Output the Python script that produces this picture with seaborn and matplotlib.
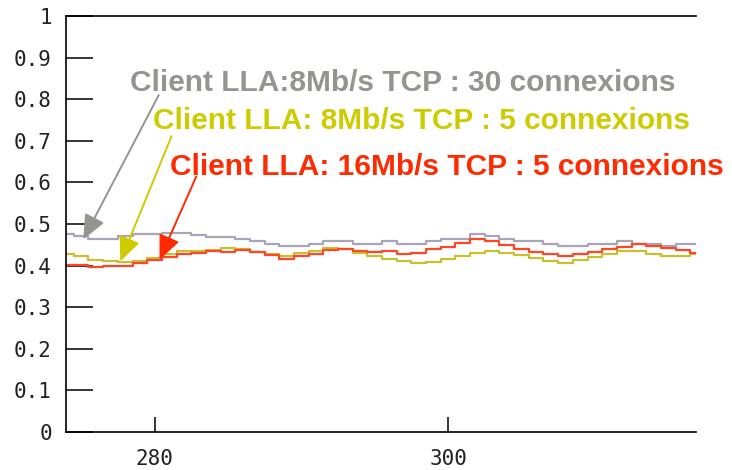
import matplotlib
matplotlib.use("Agg")
import matplotlib.pyplot as plt
import numpy as np
import pandas as pd
import seaborn as sns

# Time axis (seconds)
time_s = list(range(274, 318))

# Throughput ratio for each client configuration
gray_30conn = [0.475, 0.471, 0.465, 0.465, 0.471, 0.475, 0.475, 0.479, 0.479, 0.473,
               0.469, 0.469, 0.464, 0.459, 0.453, 0.448, 0.448, 0.453, 0.459, 0.459,
               0.453, 0.453, 0.459, 0.453, 0.453, 0.459, 0.464, 0.464, 0.475, 0.471,
               0.465, 0.459, 0.459, 0.453, 0.448, 0.448, 0.453, 0.453, 0.459, 0.453,
               0.453, 0.448, 0.453, 0.453]
yellow_8mb_5conn = [0.428, 0.423, 0.413, 0.410, 0.408, 0.410, 0.418, 0.428, 0.434, 0.436,
                    0.437, 0.442, 0.440, 0.433, 0.427, 0.424, 0.431, 0.436, 0.442, 0.439,
                    0.431, 0.424, 0.416, 0.410, 0.407, 0.409, 0.415, 0.424, 0.430, 0.436,
                    0.431, 0.426, 0.418, 0.410, 0.407, 0.414, 0.421, 0.428, 0.434, 0.434,
                    0.429, 0.423, 0.423, 0.428]
red_16mb_5conn = [0.402, 0.402, 0.396, 0.398, 0.400, 0.407, 0.413, 0.421, 0.428, 0.430,
                  0.434, 0.433, 0.437, 0.433, 0.425, 0.417, 0.422, 0.428, 0.437, 0.441,
                  0.435, 0.433, 0.436, 0.428, 0.431, 0.439, 0.445, 0.455, 0.464, 0.459,
                  0.450, 0.441, 0.433, 0.428, 0.422, 0.428, 0.433, 0.439, 0.445, 0.453,
                  0.448, 0.443, 0.437, 0.431]

series_names = ["Client LLA:8Mb/s TCP : 30 connexions",
                "Client LLA: 8Mb/s TCP : 5 connexions",
                "Client LLA: 16Mb/s TCP : 5 connexions"]
line_colors = ["#a9a5b8", "#c8c030", "#ff4626"]
text_colors = ["#959490", "#cccc00", "#ff2a00"]

y_ticks = [0, 0.1, 0.2, 0.3, 0.4, 0.5, 0.6, 0.7, 0.8, 0.9, 1]
y_tick_labels = ["0", "0.1", "0.2", "0.3", "0.4", "0.5", "0.6", "0.7", "0.8", "0.9", "1"]
x_ticks = [280, 300]
x_tick_labels = ["280", "300"]

frames = []
for name, vals in zip(series_names, [gray_30conn, yellow_8mb_5conn, red_16mb_5conn]):
    frames.append(pd.DataFrame({"t": time_s, "ratio": vals, "config": name}))
df = pd.concat(frames, ignore_index=True)

sns.set_theme(style="white")
plt.rcParams["font.family"] = ["DejaVu Sans Mono", "DejaVu Sans"]

fig = plt.figure(figsize=(7.32, 4.70), dpi=100)
ax = fig.add_axes([0.0908, 0.0809, 0.951 - 0.0908, 0.966 - 0.0809])

sns.lineplot(data=df, x="t", y="ratio", hue="config", hue_order=series_names,
             palette=dict(zip(series_names, line_colors)), ax=ax,
             drawstyle="steps-mid", linewidth=1.6, legend=False)

ax.set_xlim(274, 316.9)
ax.set_ylim(0, 1)
ax.set_xticks(x_ticks)
ax.set_xticklabels(x_tick_labels)
ax.set_yticks(y_ticks)
ax.set_yticklabels(y_tick_labels)
ax.set_xlabel("")
ax.set_ylabel("")

for side in ["left", "top", "bottom"]:
    ax.spines[side].set_visible(True)
    ax.spines[side].set_color("black")
    ax.spines[side].set_linewidth(1.2)
ax.spines["right"].set_visible(False)

ax.tick_params(axis="y", direction="in", length=19.5, width=1.1, color="black",
               labelsize=15, pad=10.5, left=True, labelcolor="#222222")
ax.tick_params(axis="x", direction="in", length=10.8, width=1.1, color="black",
               labelsize=15, pad=12, bottom=True, labelcolor="#222222")

# Annotation labels with arrows pointing to each curve
label_pos = [(278.35, 0.819), (279.9, 0.728), (281.07, 0.617)]
arrow_tail = [(280.29, 0.810), (281.16, 0.711), (282.84, 0.614)]
arrow_tip = [(275.15, 0.463), (277.67, 0.410), (280.34, 0.414)]

for name, tcol, lpos, tail, tip in zip(series_names, text_colors, label_pos,
                                       arrow_tail, arrow_tip):
    ax.text(lpos[0], lpos[1], name, color=tcol, fontsize=21.5, fontweight="bold",
            family=["Liberation Sans", "DejaVu Sans"], ha="left", va="baseline",
            zorder=5)
    ax.annotate("", xy=tip, xytext=tail,
                arrowprops=dict(arrowstyle="-|>,head_length=0.75,head_width=0.33",
                                color=tcol, lw=1.4, shrinkA=0, shrinkB=0,
                                mutation_scale=20),
                zorder=6)

fig.savefig("out.png", dpi=100, facecolor="white")
